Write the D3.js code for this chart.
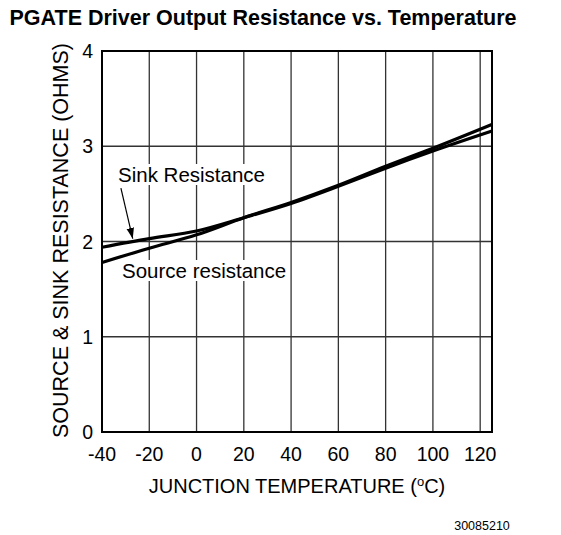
<!DOCTYPE html>
<meta charset="utf-8">
<script src="https://d3js.org/d3.v7.min.js"></script>
<style>
body { margin: 0; background: #fff; font-family: "Liberation Sans", Arial, sans-serif; }
</style>
<div id="chart"></div>
<script>
// values
var temps = [-40, -20, 0, 20, 40, 60, 80, 100, 125];
var sourceRes = [1.78, 1.93, 2.07, 2.25, 2.41, 2.59, 2.79, 2.98, 3.23];
var sinkRes   = [1.94, 2.03, 2.11, 2.25, 2.40, 2.58, 2.77, 2.95, 3.16];
var xTicks = [-40, -20, 0, 20, 40, 60, 80, 100, 120];
var yTicks = [0, 1, 2, 3, 4];

var margin = {top: 51, right: 69, bottom: 103, left: 102},
    width = 561 - margin.left - margin.right,
    height = 535 - margin.top - margin.bottom;

var svg = d3.select("#chart").append("svg")
    .attr("width", 561).attr("height", 535);

svg.append("text")
    .attr("x", 263).attr("y", 25)
    .attr("text-anchor", "middle")
    .style("font-size", "21.5px").style("font-weight", "bold")
    .text("PGATE Driver Output Resistance vs. Temperature");

var g = svg.append("g")
    .attr("transform", "translate(" + margin.left + "," + margin.top + ")");

var x = d3.scaleLinear().domain([-40, 125]).range([0, width]);
var y = d3.scaleLinear().domain([0, 4]).range([height, 0]);

// grid
g.selectAll(".vgrid").data(xTicks.slice(1))
  .enter().append("line")
    .attr("x1", d => x(d)).attr("x2", d => x(d))
    .attr("y1", 0).attr("y2", height)
    .attr("stroke", "#333").attr("stroke-width", 1.3);
g.selectAll(".hgrid").data(yTicks.slice(1, 4))
  .enter().append("line")
    .attr("x1", 0).attr("x2", width)
    .attr("y1", d => y(d)).attr("y2", d => y(d))
    .attr("stroke", "#333").attr("stroke-width", 1.3);

// labels with white background (cover the grid)
function label(tx, ty, str) {
  var t = g.append("text")
      .attr("x", tx).attr("y", ty)
      .style("font-size", "20.5px")
      .text(str);
  var b = t.node().getBBox();
  g.insert("rect", "text:last-of-type")
      .attr("x", b.x - 1).attr("y", b.y + 1)
      .attr("width", b.width + 2).attr("height", b.height - 2)
      .attr("fill", "#fff");
  t.raise();
}
label(16, 131, "Sink Resistance");
label(20, 227, "Source resistance");

// curves
var line = d3.line()
    .x((d, i) => x(temps[i]))
    .y(d => y(d))
    .curve(d3.curveMonotoneX);

[sourceRes, sinkRes].forEach(function(s) {
  g.append("path")
      .attr("d", line(s))
      .attr("fill", "none")
      .attr("stroke", "#000")
      .attr("stroke-width", 3.2);
});

// arrow from label to sink curve
svg.append("defs").append("marker")
    .attr("id", "arr").attr("viewBox", "0 0 10 10")
    .attr("refX", 10).attr("refY", 5)
    .attr("markerWidth", 9).attr("markerHeight", 9)
    .attr("orient", "auto")
  .append("path").attr("d", "M0,1.5 L10,5 L0,8.5 Z").attr("fill", "#000");

g.append("line")
    .attr("x1", x(-32)).attr("y1", y(2.56))
    .attr("x2", x(-27)).attr("y2", y(2.03))
    .attr("stroke", "#000").attr("stroke-width", 1.2)
    .attr("marker-end", "url(#arr)");

// frame
g.append("rect")
    .attr("width", width).attr("height", height)
    .attr("fill", "none").attr("stroke", "#000").attr("stroke-width", 2);

// tick labels
g.selectAll(".xt").data(xTicks).enter().append("text")
    .attr("x", d => x(d)).attr("y", height + 29)
    .attr("text-anchor", "middle")
    .style("font-size", "19.5px")
    .text(d => d);
g.selectAll(".yt").data(yTicks).enter().append("text")
    .attr("x", -9).attr("y", d => y(d) + 7)
    .attr("text-anchor", "end")
    .style("font-size", "19.5px")
    .text(d => d);

// axis titles
var xt = svg.append("text")
    .attr("x", 297).attr("y", 493)
    .attr("text-anchor", "middle")
    .style("font-size", "20px");
xt.append("tspan").text("JUNCTION TEMPERATURE (");
xt.append("tspan").attr("dy", -7).style("font-size", "13px").text("o");
xt.append("tspan").attr("dy", 7).text("C)");

svg.append("text")
    .attr("transform", "translate(68," + (margin.top + height / 2 - 1) + ") rotate(-90)")
    .attr("text-anchor", "middle")
    .style("font-size", "21.5px")
    .text("SOURCE & SINK RESISTANCE (OHMS)");

svg.append("text")
    .attr("x", 482).attr("y", 530)
    .attr("text-anchor", "middle")
    .style("font-size", "12.5px")
    .text("30085210");
</script>
